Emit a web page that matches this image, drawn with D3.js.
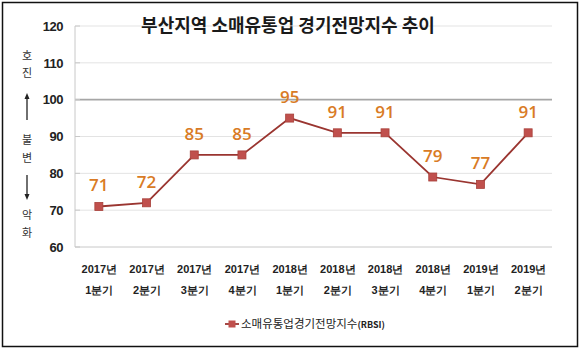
<!DOCTYPE html>
<html><head><meta charset="utf-8">
<script src="https://cdn.jsdelivr.net/npm/d3@7"></script>
<style>
html,body{margin:0;padding:0;background:#fff;}
svg{display:block;font-family:"Noto Sans CJK KR","Noto Sans",sans-serif;}
</style></head>
<body><svg id="c" width="580" height="350"></svg>
<script>
const title = "부산지역 소매유통업 경기전망지수 추이";
const years = ["2017년","2017년","2017년","2017년","2018년","2018년","2018년","2018년","2019년","2019년"];
const quarters = ["1분기","2분기","3분기","4분기","1분기","2분기","3분기","4분기","1분기","2분기"];
const values = [71,72,85,85,95,91,91,79,77,91];
const yTicks = [60,70,80,90,100,110,120];
const seriesName = "소매유통업경기전망지수";
const seriesSuffix = "(RBSI)";
const sideTop = ["호","진"], sideMid = ["불","변"], sideBot = ["악","화"];

(function(){
const svg = d3.select("#c");
svg.append("rect").attr("x",2.5).attr("y",2.5).attr("width",575).attr("height",344)
  .attr("fill","#fff").attr("stroke","#111").attr("stroke-width",1.5);

const pl=75, pr=552, pt=26, pb=247;
const idx = values.map((d,i)=>i);
const x = d3.scalePoint().domain(idx).range([pl,pr]).padding(0.5);
const y = d3.scaleLinear().domain([60,120]).range([pb,pt]);

svg.append("g").selectAll("line").data(yTicks).join("line")
  .attr("x1",pl).attr("x2",pr)
  .attr("y1",d=>y(d)).attr("y2",d=>y(d))
  .attr("stroke",d=>d===100?"#a6a6a6":(d===60?"#c8c8c8":"#e3e3e3"))
  .attr("stroke-width",d=>d===100?1.6:1);
svg.append("line").attr("x1",pl).attr("x2",pl).attr("y1",pt).attr("y2",pb)
  .attr("stroke","#c8c8c8").attr("stroke-width",1);
svg.append("g").selectAll("line").data(yTicks).join("line")
  .attr("x1",pl).attr("x2",pl+5).attr("y1",d=>y(d)).attr("y2",d=>y(d))
  .attr("stroke","#c8c8c8");

const yAxis = svg.append("g").attr("transform",`translate(${pl-10},0)`)
  .call(d3.axisLeft(y).tickValues(yTicks).tickSize(0).tickPadding(2));
yAxis.select(".domain").remove();
yAxis.selectAll("text").attr("font-size",13).attr("font-weight","bold")
  .attr("fill","#222").attr("font-family","'Liberation Sans Narrow','Liberation Sans',Arial,sans-serif")
  .style("letter-spacing","-0.5px");

const xAxis = svg.append("g").attr("transform",`translate(0,${pb})`)
  .call(d3.axisBottom(x).tickSize(0).tickFormat(()=>""));
xAxis.select(".domain").remove();
xAxis.selectAll(".tick").each(function(d){
  const g=d3.select(this);
  g.append("text").attr("y",22).attr("text-anchor","middle").attr("dy","0.35em")
    .attr("font-size",11).attr("font-weight","bold").attr("fill","#222").text(years[d]);
  g.append("text").attr("y",43).attr("text-anchor","middle").attr("dy","0.35em")
    .attr("font-size",11).attr("font-weight","bold").attr("fill","#222").text(quarters[d]);
});

const sx=27;
function vtext(arr, ys){
  arr.forEach((t,i)=>svg.append("text").attr("x",sx).attr("y",ys[i]).attr("dy","0.35em")
    .attr("text-anchor","middle").attr("font-size",11).attr("fill","#333").text(t));
}
vtext(sideTop,[56,73]); vtext(sideMid,[140,158]); vtext(sideBot,[215,233]);
svg.append("line").attr("x1",sx).attr("x2",sx).attr("y1",98).attr("y2",120).attr("stroke","#222").attr("stroke-width",1.3);
svg.append("path").attr("d",`M${sx-2.5},99 L${sx},93 L${sx+2.5},99 Z`).attr("fill","#222");
svg.append("line").attr("x1",sx).attr("x2",sx).attr("y1",175).attr("y2",195).attr("stroke","#222").attr("stroke-width",1.3);
svg.append("path").attr("d",`M${sx-2.5},194 L${sx},200 L${sx+2.5},194 Z`).attr("fill","#222");

const line = d3.line().x((d,i)=>x(i)).y(d=>y(d));
svg.append("path").datum(values).attr("d",line).attr("fill","none")
  .attr("stroke","#9a3530").attr("stroke-width",1.8);
const ms=8;
svg.append("g").selectAll("rect").data(values).join("rect")
  .attr("x",(d,i)=>x(i)-ms/2).attr("y",d=>y(d)-ms/2).attr("width",ms).attr("height",ms)
  .attr("fill","#c0504d").attr("stroke","#a8403a").attr("stroke-width",0.8);
svg.append("g").selectAll("text").data(values).join("text")
  .attr("x",(d,i)=>x(i)).attr("y",d=>y(d)-21).attr("dy","0.35em")
  .attr("text-anchor","middle").attr("font-size",17).attr("font-weight",600).attr("fill","#d97b25")
  .attr("font-family","'Open Sans','Noto Sans',sans-serif")
  .text(d=>d);

svg.append("text").attr("x",288).attr("y",26).attr("dy","0.35em").attr("text-anchor","middle")
  .attr("font-size",18).attr("font-weight","bold").attr("fill","#1a1a1a").text(title);

const lg = svg.append("g").attr("transform","translate(0,324)");
lg.append("line").attr("x1",225).attr("x2",239).attr("y1",0).attr("y2",0).attr("stroke","#9a3530").attr("stroke-width",1.8);
lg.append("rect").attr("x",228.5).attr("y",-3.5).attr("width",7).attr("height",7).attr("fill","#c0504d");
const lt = lg.append("text").attr("x",241).attr("y",0).attr("dy","0.35em").attr("font-size",11.5).attr("fill","#222");
lt.append("tspan").text(seriesName);
lt.append("tspan").attr("font-size",9).attr("font-weight","bold").text(seriesSuffix);
})();
</script></body></html>
